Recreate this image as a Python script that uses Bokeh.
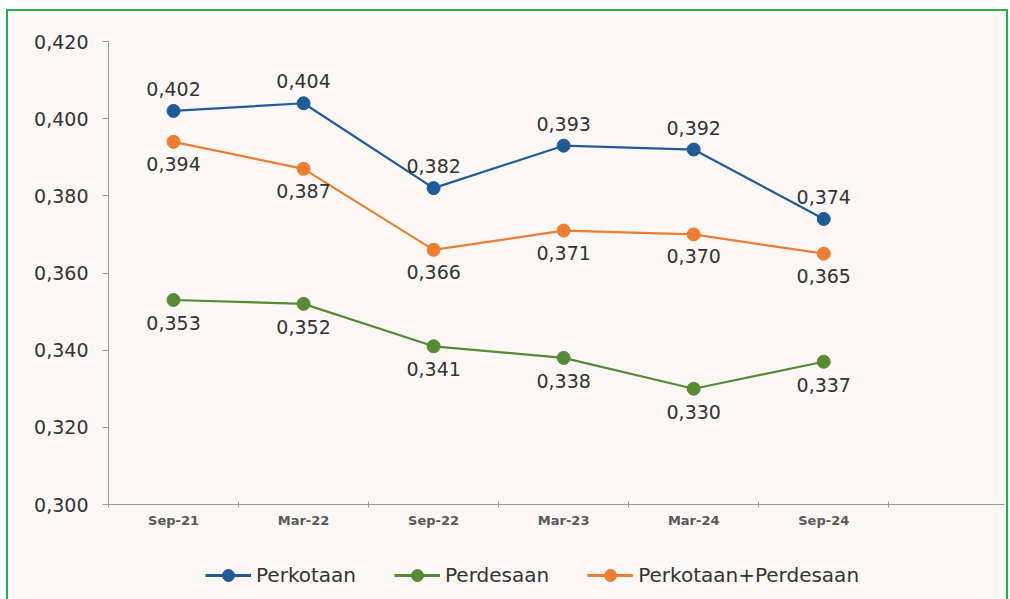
from bokeh.plotting import figure
from bokeh.layouts import column
from bokeh.models import FixedTicker, CustomJSTickFormatter, Legend, LegendItem, Range1d
from bokeh.core.properties import value
from bokeh.embed import file_html
from bokeh.resources import INLINE

periods = ["Sep-21", "Mar-22", "Sep-22", "Mar-23", "Mar-24", "Sep-24"]
perkotaan = [0.402, 0.404, 0.382, 0.393, 0.392, 0.374]
perdesaan = [0.353, 0.352, 0.341, 0.338, 0.330, 0.337]
gabungan = [0.394, 0.387, 0.366, 0.371, 0.370, 0.365]
y_ticks = [0.300, 0.320, 0.340, 0.360, 0.380, 0.400, 0.420]
series_names = ["Perkotaan", "Perdesaan", "Perkotaan+Perdesaan"]

BG = "#fdf8f6"
FONT = "DejaVu Sans"
GREEN_BORDER = "2px solid #22b04b"
colors = ["#1f5b96", "#568a34", "#ed7d31"]
label_offsets = [-22, 23, 22]

xs = [i + 0.5 for i in range(len(periods))]

p = figure(width=1002, height=529, output_backend="svg", toolbar_location=None,
           x_range=Range1d(0, 6.89), y_range=Range1d(0.300, 0.420),
           min_border_left=100, min_border_top=30, min_border_right=6, min_border_bottom=36,
           background_fill_color=BG, border_fill_color=BG, outline_line_color=None,
           styles={"border-top": GREEN_BORDER, "border-left": GREEN_BORDER,
                   "border-right": GREEN_BORDER})
p.grid.visible = False

for vals, col, name, off in zip([perkotaan, perdesaan, gabungan], colors, series_names, label_offsets):
    p.line(xs, vals, line_color=col, line_width=2.2)
    p.scatter(xs, vals, size=13, fill_color=col, line_color=col)
    p.text(x=xs, y=vals, text=[f"{v:.3f}".replace(".", ",") for v in vals],
           y_offset=off, text_align="center", text_baseline="middle",
           text_font=value(FONT), text_font_size="19px", text_color="#333333")

# y axis
ya = p.yaxis[0]
ya.ticker = FixedTicker(ticks=y_ticks)
ya.formatter = CustomJSTickFormatter(code="return tick.toFixed(3).replace('.', ',');")
ya.axis_line_color = "#9a9a9a"
ya.major_tick_line_color = "#9a9a9a"
ya.major_tick_in = 0
ya.major_tick_out = 6
ya.minor_tick_line_color = None
ya.major_label_standoff = 14
ya.major_label_text_font = FONT
ya.major_label_text_font_size = "19px"
ya.major_label_text_color = "#333333"

# x axis
xa = p.xaxis[0]
xa.ticker = FixedTicker(ticks=xs, minor_ticks=list(range(0, 8)))
xa.formatter = CustomJSTickFormatter(args=dict(labels=periods),
    code="const i = Math.round(tick - 0.5); return (i >= 0 && i < labels.length) ? labels[i] : '';")
xa.axis_line_color = "#9a9a9a"
xa.major_tick_in = 0
xa.major_tick_out = 0
xa.minor_tick_in = 3
xa.minor_tick_out = 3
xa.minor_tick_line_color = "#9a9a9a"
xa.major_label_standoff = 5
xa.major_label_text_font = FONT
xa.major_label_text_font_style = "bold"
xa.major_label_text_font_size = "13px"
xa.major_label_text_color = "#595959"

# legend-only strip below the chart (its renderers hold data outside its visible ranges)
lf = figure(width=1002, height=61, output_backend="svg", toolbar_location=None,
            x_range=Range1d(100, 101), y_range=Range1d(100, 101),
            x_axis_location=None, y_axis_location=None,
            min_border_left=100, min_border_right=6, min_border_top=0, min_border_bottom=0,
            background_fill_color=BG, border_fill_color=BG, outline_line_color=None,
            styles={"border-left": GREEN_BORDER, "border-right": GREEN_BORDER})
lf.grid.visible = False
items = []
for vals, col, name in zip([perkotaan, perdesaan, gabungan], colors, series_names):
    lr = lf.line(xs, vals, line_color=col, line_width=3)
    cr = lf.scatter(xs, vals, size=12, fill_color=col, line_color=col)
    items.append(LegendItem(label=name, renderers=[lr, cr]))

legend = Legend(items=items, orientation="horizontal", location=(97, 9),
                glyph_width=46, glyph_height=30, label_standoff=5, spacing=38,
                label_text_font=FONT, label_text_font_size="20px", label_text_color="#333333",
                background_fill_alpha=0, border_line_color=None, padding=8, margin=0)
lf.add_layout(legend, "center")

layout = column(p, lf, spacing=0,
                styles={"margin-left": "6px", "margin-top": "9px", "background-color": BG})

open("out.html", "w").write(file_html(layout, INLINE))
